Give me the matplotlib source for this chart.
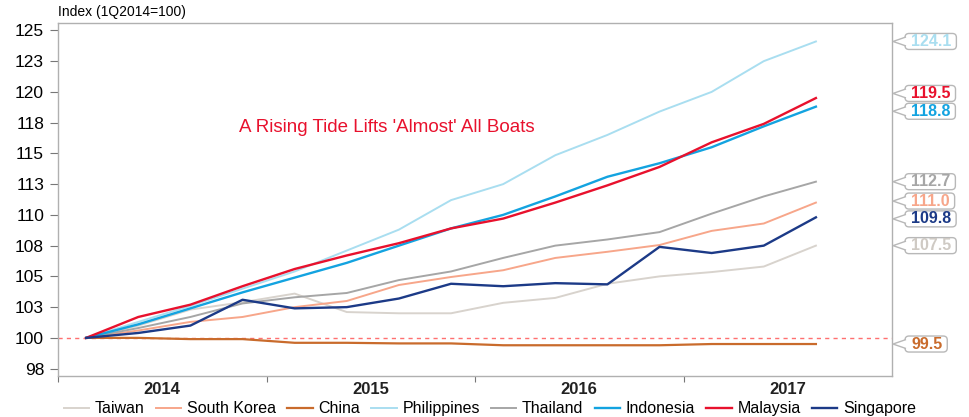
import matplotlib
matplotlib.use("Agg")
import matplotlib.pyplot as plt
from matplotlib.patches import FancyBboxPatch, Polygon
import numpy as np

plt.rcParams['font.family'] = ['Liberation Sans', 'DejaVu Sans']

# quarterly index values, 1Q2014 .. 3Q2017 (1Q2014 = 100)
quarters = ["1Q14", "2Q14", "3Q14", "4Q14", "1Q15", "2Q15", "3Q15", "4Q15",
            "1Q16", "2Q16", "3Q16", "4Q16", "1Q17", "2Q17", "3Q17"]
taiwan      = [100, 101.0, 102.3, 102.9, 103.6, 102.1, 102.0, 102.0, 102.85, 103.25, 104.4, 105.0, 105.35, 105.8, 107.5]
south_korea = [100, 100.6, 101.3, 101.7, 102.5, 103.0, 104.3, 104.95, 105.5, 106.5, 107.0, 107.55, 108.7, 109.3, 111.0]
china       = [100, 100.0, 99.9, 99.9, 99.6, 99.6, 99.55, 99.55, 99.4, 99.4, 99.4, 99.4, 99.5, 99.5, 99.5]
philippines = [100, 101.3, 102.6, 104.0, 105.4, 107.1, 108.8, 111.2, 112.5, 114.85, 116.5, 118.4, 120.0, 122.5, 124.1]
thailand    = [100, 100.8, 101.7, 102.8, 103.3, 103.65, 104.7, 105.4, 106.5, 107.5, 108.0, 108.6, 110.1, 111.5, 112.7]
indonesia   = [100, 101.1, 102.4, 103.7, 104.9, 106.1, 107.5, 108.9, 110.0, 111.5, 113.1, 114.2, 115.5, 117.2, 118.8]
malaysia    = [100, 101.7, 102.7, 104.2, 105.6, 106.7, 107.7, 108.9, 109.7, 111.0, 112.4, 113.9, 115.9, 117.4, 119.5]
singapore   = [100, 100.4, 101.0, 103.1, 102.4, 102.5, 103.2, 104.4, 104.2, 104.45, 104.35, 107.4, 106.9, 107.5, 109.8]

names = ["Taiwan", "South Korea", "China", "Philippines", "Thailand", "Indonesia", "Malaysia", "Singapore"]
series = [taiwan, south_korea, china, philippines, thailand, indonesia, malaysia, singapore]
colors = ["#d8d3cd", "#f7a68a", "#c96b2c", "#a9def0", "#a6a6a6", "#13a3e0", "#e8112d", "#1c3a87"]
label_colors = ["#cfcac4", "#f7a68a", "#c96b2c", "#a9def0", "#a6a6a6", "#13a3e0", "#e8112d", "#1c3a87"]
widths = [1.4, 1.4, 1.6, 1.4, 1.4, 1.7, 1.7, 1.7]

yticks = [97.5, 100, 102.5, 105, 107.5, 110, 112.5, 115, 117.5, 120, 122.5, 125]
yticklabels = ["98", "100", "103", "105", "108", "110", "113", "115", "118", "120", "123", "125"]
years = [2014, 2015, 2016, 2017]

# x position of each quarter (fraction of year)
x = 2014.135 + 0.25 * np.arange(len(quarters))

fig = plt.figure(figsize=(9.7, 4.17), dpi=100)
ax = fig.add_axes([0.0598, 0.0983, 0.8598, 0.8465])

ax.axhline(100, color="#ff7070", lw=1.0, ls=(0, (3, 3)), zorder=1)

for name, vals, c, lw in zip(names, series, colors, widths):
    ax.plot(x, vals, color=c, lw=lw, label=name, zorder=2)

ax.set_xlim(2014, 2018)
ax.set_ylim(96.9, 125.6)

ax.set_yticks(yticks)
ax.set_yticklabels(yticklabels, fontsize=12.5)
ax.set_xticks([2014, 2015, 2016, 2017])
ax.set_xticklabels([])
ax.set_xticks([y + 0.5 for y in years], minor=True)
ax.set_xticklabels([str(y) for y in years], minor=True, fontsize=12, fontweight="bold", color="#222222")
ax.tick_params(axis="x", which="minor", length=0, pad=4)
ax.tick_params(axis="x", which="major", length=4, color="#777777", direction="out")
ax.tick_params(axis="y", length=6, color="#777777", direction="out", pad=4)

for s in ax.spines.values():
    s.set_color("#b0b0b0")
    s.set_linewidth(1.0)

ax.text(0.0, 1.012, "Index (1Q2014=100)", transform=ax.transAxes, fontsize=10, ha="left", va="bottom")

ax.text(2014.87, 117.1, "A Rising Tide Lifts 'Almost' All Boats", color="#e8112d", fontsize=13.5,
        ha="left", va="center")

# end-of-line value labels, pushed apart so they don't overlap
last = np.array([v[-1] for v in series], dtype=float)
order = np.argsort(last)
pos = last.copy()
gap = 1.45
for _ in range(50):
    moved = False
    for a, b in zip(order[:-1], order[1:]):
        d = pos[b] - pos[a]
        if d < gap:
            shift = (gap - d) / 2
            pos[a] -= shift
            pos[b] += shift
            moved = True
    if not moved:
        break

# callout boxes drawn in pixel coords to the right of the axes
renderer = fig.canvas.get_renderer()
x_spine = ax.transAxes.transform((1.0, 0.0))[0]
box_h = 16
for i in range(len(series)):
    yp = ax.transData.transform((0, pos[i]))[1]
    left = x_spine + 13
    t = fig.text(left + 6, yp, f"{last[i]:.1f}", transform=None, color=label_colors[i],
                 fontsize=11.5, fontweight="bold", ha="left", va="center", zorder=5)
    tw = t.get_window_extent(renderer).width
    box = FancyBboxPatch((left, yp - box_h / 2), tw + 11, box_h,
                         boxstyle="round,pad=0,rounding_size=4", fc="white", ec="#b8b8b8",
                         lw=1.0, transform=None, clip_on=False, zorder=3)
    fig.add_artist(box)
    tri = Polygon([[left + 1, yp + 4.5], [x_spine + 1, yp], [left + 1, yp - 4.5]], closed=False,
                  fc="white", ec="#b8b8b8", lw=1.0, transform=None, clip_on=False, zorder=4)
    fig.add_artist(tri)

fig.legend(loc="center", bbox_to_anchor=(0.505, 0.02), ncol=8, frameon=False, fontsize=11.5,
           handlelength=1.6, handletextpad=0.35, columnspacing=0.7, borderaxespad=0)

fig.savefig("out.png", dpi=100)
